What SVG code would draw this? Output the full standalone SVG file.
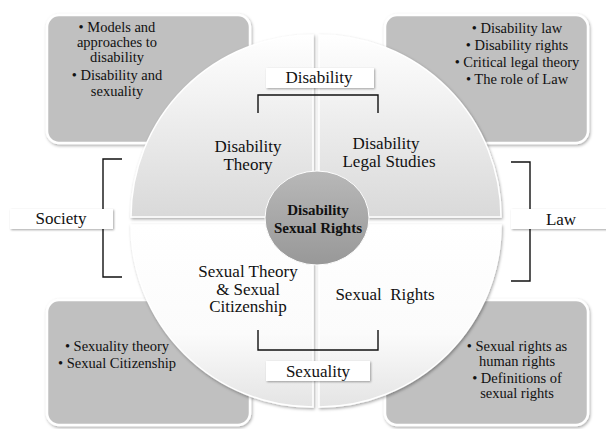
<svg xmlns="http://www.w3.org/2000/svg" width="606" height="429" viewBox="0 0 606 429">
<defs>
<linearGradient id="gTop" x1="0" y1="0" x2="0" y2="1"><stop offset="0" stop-color="#ffffff"/><stop offset="1" stop-color="#d9d9d9"/></linearGradient>
<linearGradient id="gBot" x1="0" y1="0" x2="0" y2="1"><stop offset="0" stop-color="#ffffff"/><stop offset="0.6" stop-color="#fbfbfb"/><stop offset="1" stop-color="#e4e4e4"/></linearGradient>
<linearGradient id="gCenter" x1="0" y1="0" x2="0" y2="1"><stop offset="0" stop-color="#b8b8b8"/><stop offset="1" stop-color="#989898"/></linearGradient>
<filter id="sh" x="-10%" y="-10%" width="120%" height="120%"><feDropShadow dx="1" dy="1.5" stdDeviation="1.5" flood-color="#000" flood-opacity="0.35"/></filter>
<filter id="shs" x="-10%" y="-20%" width="120%" height="150%"><feDropShadow dx="1" dy="1" stdDeviation="1" flood-color="#000" flood-opacity="0.35"/></filter>
</defs>
<style>
text{font-family:"Liberation Serif","Times New Roman",serif;fill:#111;text-anchor:middle}
.box{fill:#c0c0c0;stroke:#ffffff;stroke-width:2.5;filter:url(#sh)}
.bt{font-size:14.5px}
.q{stroke:#ffffff;stroke-width:1.5;filter:url(#sh)}
.ql{font-size:17px}
.lab{fill:#ffffff;stroke:none;filter:url(#shs)}
.lt{font-size:17px}
.br{fill:none;stroke:#111;stroke-width:1.4}
</style>
<rect width="606" height="429" fill="#ffffff"/>

<g id="box-tl"><rect class="box" x="47" y="15" width="203" height="128" rx="12"/>
<text class="bt" x="117" y="32">• Models and</text><text class="bt" x="117" y="47">approaches to</text><text class="bt" x="117" y="62">disability</text><text class="bt" x="117" y="80">• Disability and</text><text class="bt" x="117" y="96">sexuality</text></g>
<g id="box-tr"><rect class="box" x="385" y="15" width="203" height="128" rx="12"/>
<text class="bt" x="517" y="33">• Disability law</text><text class="bt" x="517" y="50">• Disability rights</text><text class="bt" x="517" y="67">• Critical legal theory</text><text class="bt" x="517" y="84">• The role of Law</text></g>
<g id="box-bl"><rect class="box" x="47" y="300" width="203" height="125" rx="12"/>
<text class="bt" x="117" y="351">• Sexuality theory</text><text class="bt" x="117" y="368">• Sexual Citizenship</text></g>
<g id="box-br"><rect class="box" x="385" y="300" width="203" height="125" rx="12"/>
<text class="bt" x="517" y="351">• Sexual rights as</text><text class="bt" x="517" y="366">human rights</text><text class="bt" x="517" y="383">• Definitions of</text><text class="bt" x="517" y="398">sexual rights</text></g>

<g id="q-disability-theory"><path class="q" fill="url(#gTop)" d="M313,217 L131,217 A182,182 0 0 1 313,35 Z"/>
<text class="ql" x="248" y="152">Disability</text><text class="ql" x="248" y="170">Theory</text></g>
<g id="q-disability-legal"><path class="q" fill="url(#gTop)" d="M319,217 L319,35 A182,182 0 0 1 501,217 Z"/>
<text class="ql" x="386" y="149">Disability</text><text class="ql" x="389" y="167">Legal Studies</text></g>
<g id="q-sexual-rights"><path class="q" fill="url(#gBot)" d="M319,225 L501,225 A182,182 0 0 1 319,407 Z"/>
<text class="ql" x="385" y="300" xml:space="preserve">Sexual  Rights</text></g>
<g id="q-sexual-theory"><path class="q" fill="url(#gBot)" d="M313,225 L313,407 A182,182 0 0 1 131,225 Z"/>
<text class="ql" x="248" y="277">Sexual Theory</text><text class="ql" x="248" y="294.5">&amp; Sexual</text><text class="ql" x="248" y="312">Citizenship</text></g>

<g id="connectors">
<path class="br" d="M258,113 V95 H378 V113"/>
<path class="br" d="M258,330 V350 H378 V330"/>
<path class="br" d="M122,159 H103 V277 H122"/>
<path class="br" d="M511,162 H530 V281 H511"/>
</g>

<g id="center"><ellipse cx="317" cy="218" rx="52" ry="47" fill="url(#gCenter)" stroke="#ffffff" stroke-width="1"/>
<text x="318" y="215" font-size="15" font-weight="bold">Disability</text><text x="318" y="233" font-size="15" font-weight="bold">Sexual Rights</text></g>

<g id="label-disability"><rect class="lab" x="266" y="68" width="108" height="20"/><text class="lt" x="319" y="83">Disability</text></g>
<g id="label-sexuality"><rect class="lab" x="266" y="361" width="104" height="20"/><text class="lt" x="318" y="377">Sexuality</text></g>
<g id="label-society"><rect class="lab" x="10" y="209" width="103" height="20"/><text class="lt" x="61" y="224">Society</text></g>
<g id="label-law"><rect class="lab" x="511" y="209" width="100" height="20"/><text class="lt" x="561" y="225">Law</text></g>
</svg>
